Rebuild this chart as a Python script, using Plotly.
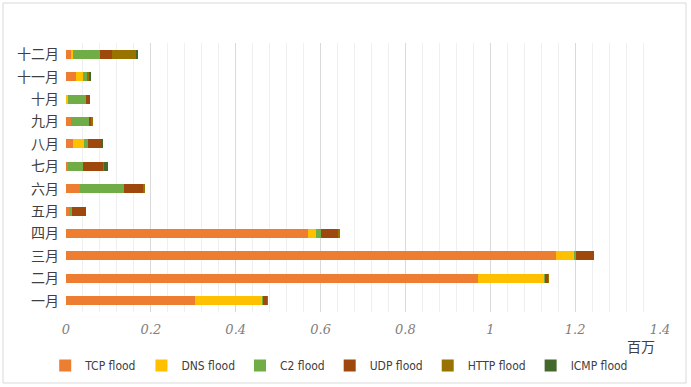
import plotly.graph_objects as go

months = ["一月", "二月", "三月", "四月", "五月", "六月", "七月", "八月", "九月", "十月", "十一月", "十二月"]

# values in millions
tcp  = [0.304, 0.970, 1.154, 0.571, 0.009, 0.032, 0.005, 0.016, 0.012, 0.000, 0.023, 0.012]
dns  = [0.158, 0.157, 0.043, 0.019, 0.000, 0.000, 0.000, 0.026, 0.000, 0.004, 0.016, 0.005]
c2   = [0.003, 0.002, 0.005, 0.010, 0.004, 0.105, 0.036, 0.010, 0.043, 0.043, 0.012, 0.064]
udp  = [0.009, 0.008, 0.043, 0.042, 0.033, 0.046, 0.048, 0.031, 0.003, 0.010, 0.000, 0.028]
http = [0.001, 0.001, 0.000, 0.003, 0.000, 0.002, 0.001, 0.000, 0.006, 0.000, 0.004, 0.058]
icmp = [0.000, 0.000, 0.000, 0.000, 0.000, 0.000, 0.010, 0.004, 0.000, 0.000, 0.005, 0.002]

series = [
    ("TCP flood", tcp, "#ED7D31"),
    ("DNS flood", dns, "#FFC000"),
    ("C2 flood", c2, "#70AD47"),
    ("UDP flood", udp, "#9E480E"),
    ("HTTP flood", http, "#997300"),
    ("ICMP flood", icmp, "#43682B"),
]

x_ticks = [0, 0.2, 0.4, 0.6, 0.8, 1.0, 1.2, 1.4]
x_tick_text = ["0", "0.2", "0.4", "0.6", "0.8", "1", "1.2", "1.4"]

fig = go.Figure()
for name, vals, color in series:
    fig.add_trace(go.Bar(
        y=months, x=vals, name=name, orientation="h",
        marker=dict(color=color, line=dict(width=0)),
    ))

fig.update_layout(
    width=691, height=387,
    barmode="stack",
    bargap=0.6,
    paper_bgcolor="white",
    plot_bgcolor="white",
    margin=dict(l=66, r=31, t=43, b=75, autoexpand=False),
    font=dict(family="Noto Sans CJK SC, sans-serif", color="#595959"),
    xaxis=dict(
        range=[0, 1.4],
        tickvals=x_ticks,
        ticktext=x_tick_text,
        tickfont=dict(family="DejaVu Serif, serif", size=13, color="#7f7f7f", style="italic"),
        showgrid=True, gridcolor="#d9d9d9", gridwidth=1,
        minor=dict(dtick=0.04, showgrid=True, gridcolor="#f0f0f0", gridwidth=1),
        zeroline=False, showline=False,
        ticks="", ticklabelstandoff=8,
        automargin=False,
        fixedrange=True,
    ),
    yaxis=dict(
        categoryorder="array", categoryarray=months,
        tickfont=dict(size=14, color="#404040"),
        showgrid=False, zeroline=False, showline=False,
        ticks="", ticklabelstandoff=6,
        automargin=False,
        fixedrange=True,
    ),
    legend=dict(
        orientation="h",
        x=-0.035, xanchor="left",
        y=-0.145, yanchor="top",
        font=dict(family="Liberation Sans Narrow, DejaVu Sans Condensed, Liberation Sans, sans-serif",
                  size=12, color="#404040"),
        itemwidth=30,
        traceorder="normal",
        bgcolor="rgba(0,0,0,0)",
    ),
    annotations=[dict(
        text="百万", xref="paper", yref="paper",
        x=(641 - 66) / 594, y=-0.08, xanchor="center", yanchor="top",
        showarrow=False, font=dict(size=14, color="#404040"),
    )],
    shapes=[dict(
        type="rect", xref="paper", yref="paper",
        x0=-(66 - 3) / 594, x1=1 + (31 - 5) / 594,
        y0=-(75 - 4) / 269, y1=1 + (43 - 3) / 269,
        line=dict(color="#d9d9d9", width=1), fillcolor="rgba(0,0,0,0)",
        layer="below",
    )],
    showlegend=True,
)

fig.write_html(
    "out.html",
    config={"displayModeBar": False},
    post_script="document.body.style.margin='0';document.body.style.padding='0';",
)
